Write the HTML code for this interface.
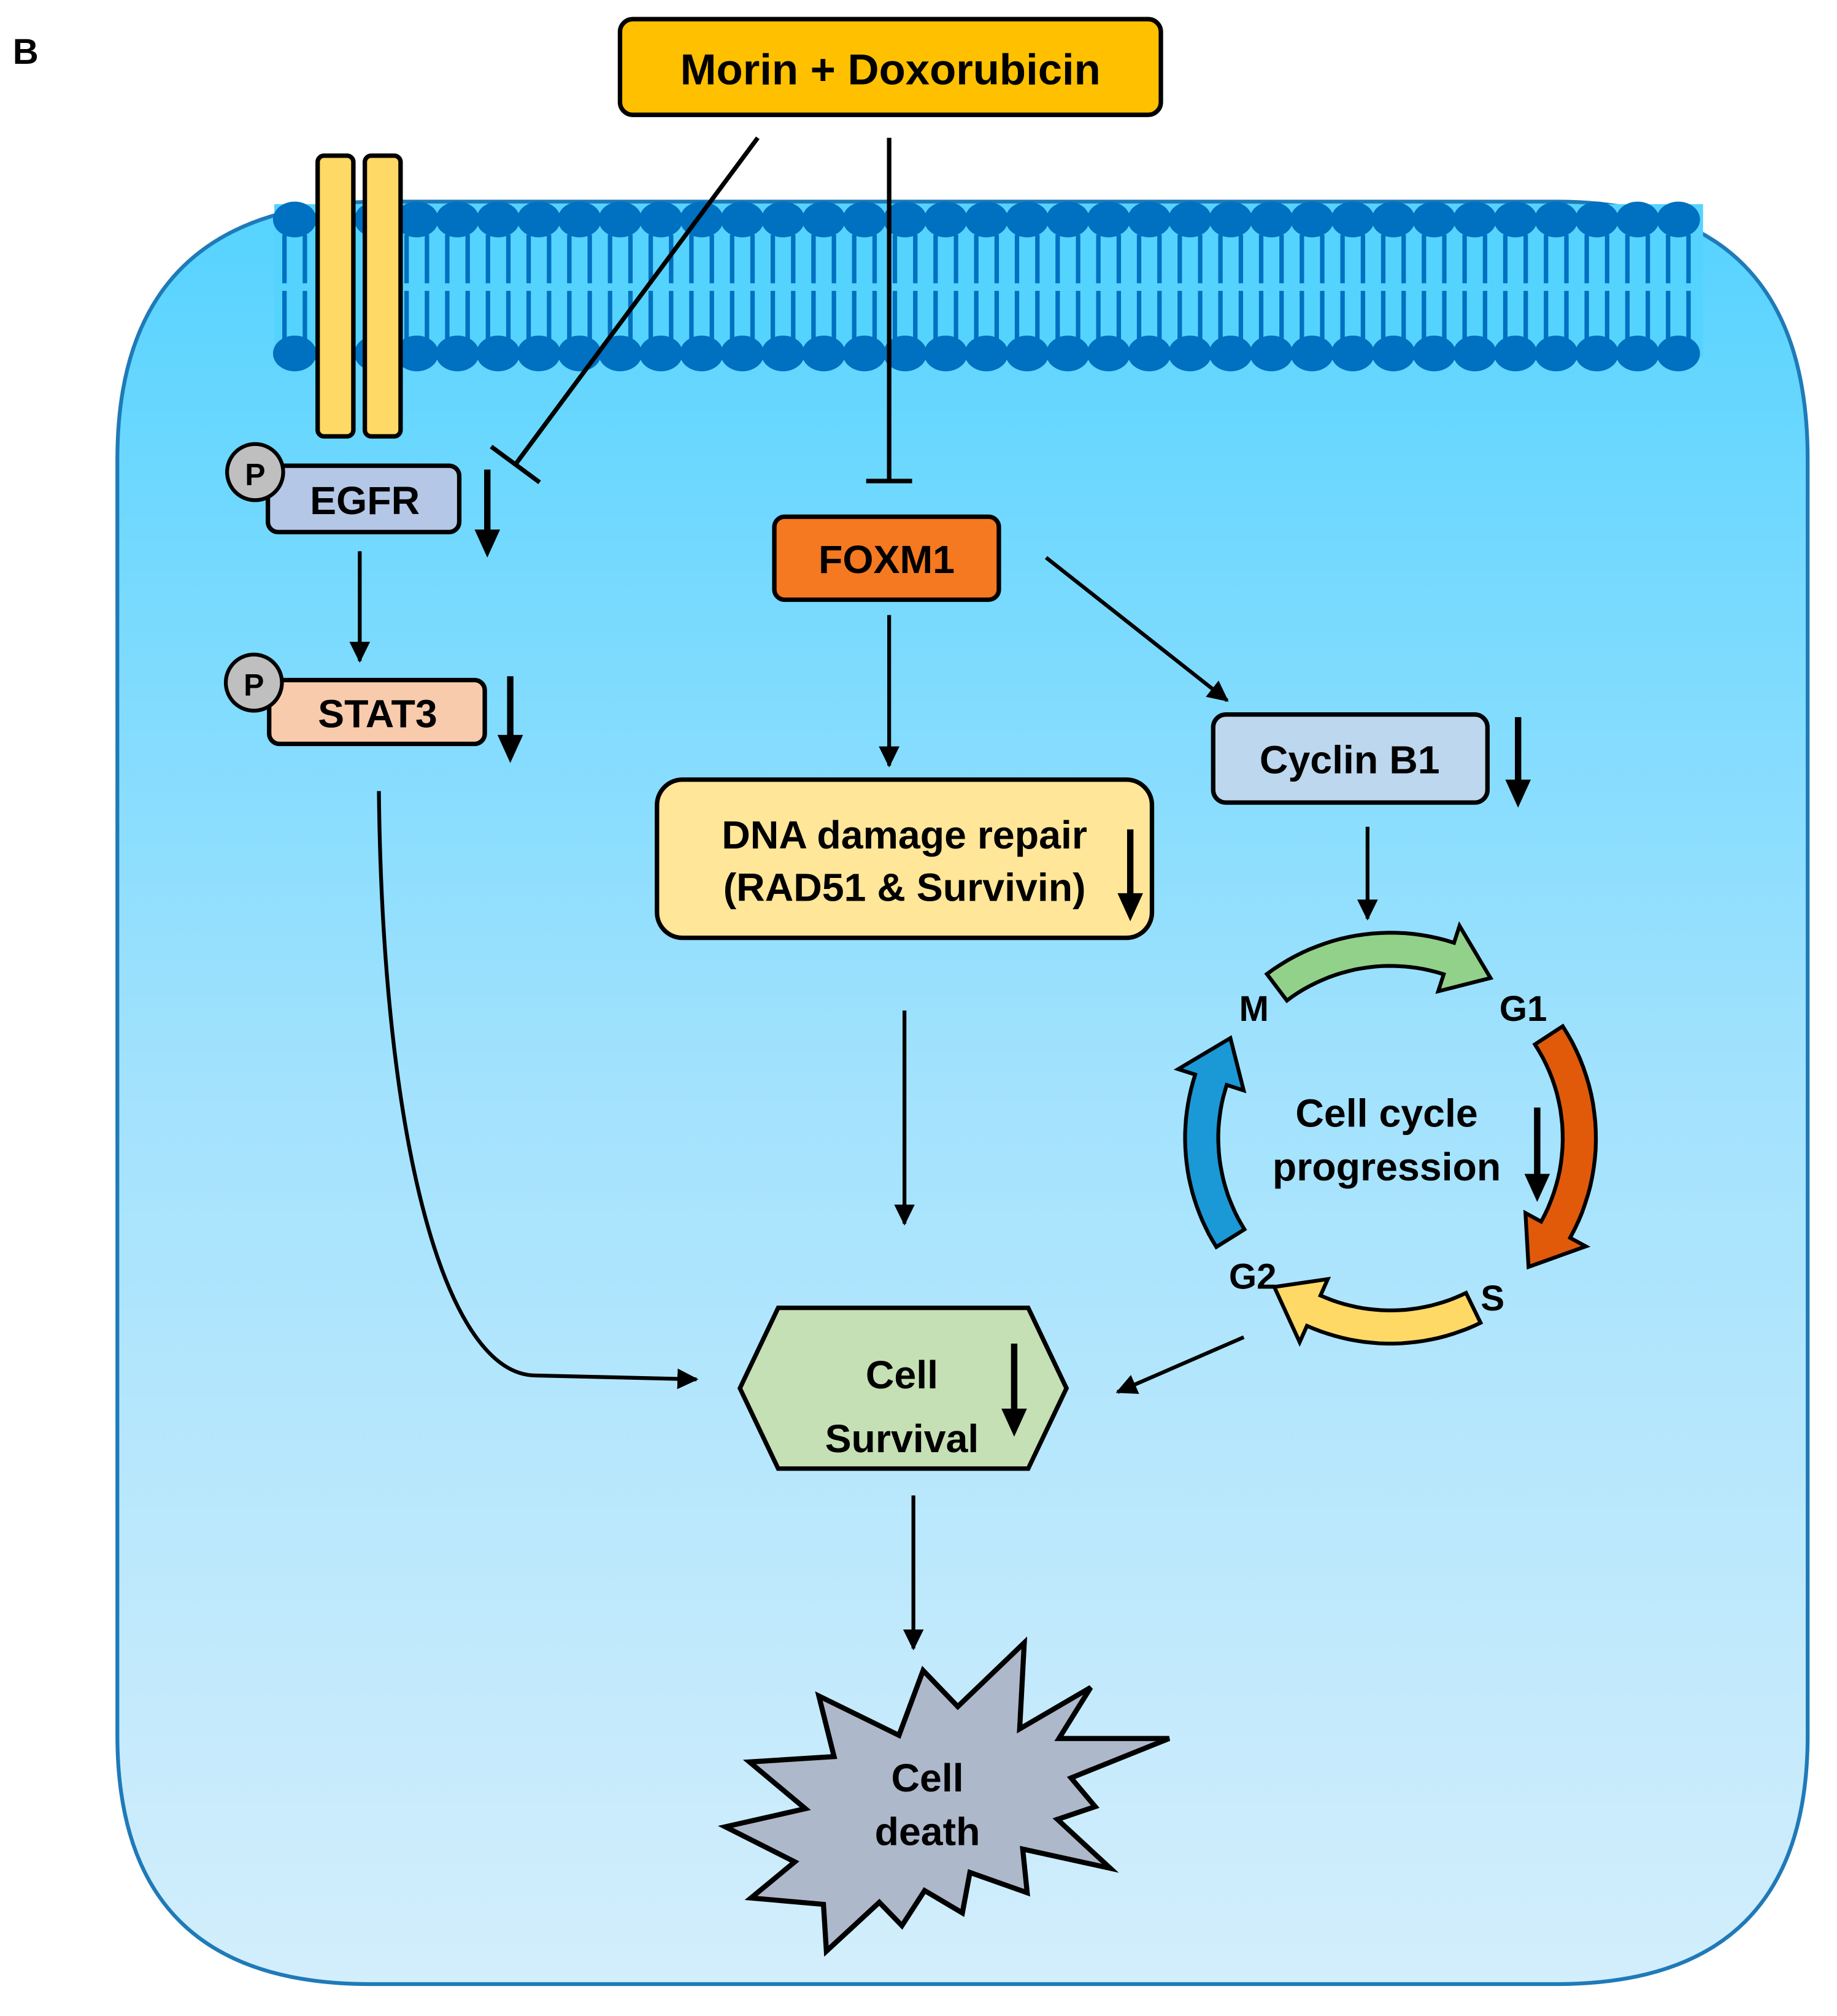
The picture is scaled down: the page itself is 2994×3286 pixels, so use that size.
<!DOCTYPE html>
<html><head><meta charset="utf-8"><style>
html,body{margin:0;padding:0;background:#fff}
svg{display:block}
text{font-family:"Liberation Sans",Arial,sans-serif;font-weight:bold;fill:#000}
</style></head><body>
<svg id="s" width="2994" height="3286" viewBox="0 0 1440 1580" preserveAspectRatio="none" xmlns="http://www.w3.org/2000/svg">
<defs>
<linearGradient id="g" x1="0" y1="0" x2="0" y2="1">
<stop offset="0" stop-color="#55D3FF"/><stop offset="0.5" stop-color="#A3E2FD"/><stop offset="1" stop-color="#D3EEFC"/>
</linearGradient>
<marker id="ah" markerWidth="6" markerHeight="6" refX="5" refY="3" orient="auto" markerUnits="strokeWidth">
<path d="M0,0.3 L5.5,3 L0,5.7 Z" fill="#000"/>
</marker>
</defs>
<text x="10" y="50" font-size="28">B</text>
<path d="M300,158 L1220,158 Q1417,158 1417,360 L1417,1360 Q1417,1555 1220,1555 L290,1555 Q92,1555 92,1360 L92,360 Q92,158 300,158 Z" fill="url(#g)" stroke="#1F7AB8" stroke-width="3"/>
<rect x="215" y="160" width="1120" height="120" fill="#55D3FF"/>
<g id="mem"></g>
<rect x="249" y="122" width="28" height="220" rx="5" fill="#FFD966" stroke="#000" stroke-width="3.5"/>
<rect x="286" y="122" width="28" height="220" rx="5" fill="#FFD966" stroke="#000" stroke-width="3.5"/>
<rect x="486" y="15" width="424" height="75" rx="10" fill="#FFC000" stroke="#000" stroke-width="3.5"/>
<text x="698" y="66" font-size="34" text-anchor="middle">Morin + Doxorubicin</text>
<g stroke="#000" stroke-width="3.5" fill="none">
<line x1="594" y1="108" x2="404" y2="364"/>
<line x1="385" y1="350" x2="423" y2="378"/>
<line x1="697" y1="108" x2="697" y2="377"/>
<line x1="679" y1="377" x2="715" y2="377"/>
</g>
<rect x="210" y="365" width="150" height="52" rx="8" fill="#B4C7E7" stroke="#000" stroke-width="3.5"/>
<circle cx="200" cy="370" r="22" fill="#BFBFBF" stroke="#000" stroke-width="3"/>
<text x="200" y="380" font-size="24" text-anchor="middle">P</text>
<text x="286" y="403" font-size="31" text-anchor="middle">EGFR</text>
<rect x="211" y="533" width="169" height="50" rx="8" fill="#F8CBAD" stroke="#000" stroke-width="3.5"/>
<circle cx="199" cy="535" r="22" fill="#BFBFBF" stroke="#000" stroke-width="3"/>
<text x="199" y="545" font-size="24" text-anchor="middle">P</text>
<text x="296" y="570" font-size="31" text-anchor="middle">STAT3</text>
<rect x="607" y="405" width="176" height="65" rx="8" fill="#F47920" stroke="#000" stroke-width="3.5"/>
<text x="695" y="449" font-size="31" text-anchor="middle">FOXM1</text>
<rect x="515" y="611" width="388" height="124" rx="20" fill="#FFE699" stroke="#000" stroke-width="3.5"/>
<text x="709" y="665" font-size="31" text-anchor="middle">DNA damage repair</text>
<text x="709" y="706" font-size="31" text-anchor="middle">(RAD51 &amp; Survivin)</text>
<rect x="951" y="560" width="215" height="69" rx="10" fill="#BDD7EE" stroke="#000" stroke-width="3.5"/>
<text x="1058" y="606" font-size="31" text-anchor="middle">Cyclin B1</text>
<polygon points="580,1088 610,1025 806,1025 836,1088 806,1151 610,1151" fill="#C5E0B4" stroke="#000" stroke-width="3.5"/>
<text x="707" y="1088" font-size="31" text-anchor="middle">Cell</text>
<text x="707" y="1138" font-size="31" text-anchor="middle">Survival</text>
<polygon points="723.6,1309.2 750.8,1337.5 802.9,1287.5 799.3,1355 855,1322.5 830.1,1362.5 916.5,1362.5 839.6,1393.4 858.5,1415.9 828.9,1425.9 870.3,1464.2 801.7,1449.2 805.2,1483.4 760.3,1467.5 754.4,1499.2 724.8,1481.7 707,1509.2 689.3,1490.9 647.8,1529.2 645.5,1492.5 588.7,1487.5 623,1459.2 568.6,1431.7 631.3,1417.5 587.5,1380.9 653.8,1376.7 641.9,1329.2 704.7,1360" fill="#ADB9CA" stroke="#000" stroke-width="4" stroke-linejoin="miter"/>
<text x="727" y="1404" font-size="31" text-anchor="middle">Cell</text>
<text x="727" y="1446" font-size="31" text-anchor="middle">death</text>
<g id="cc"></g>
<text x="983" y="800" font-size="28" text-anchor="middle">M</text>
<text x="1194" y="800" font-size="28" text-anchor="middle">G1</text>
<text x="1170" y="1027" font-size="28" text-anchor="middle">S</text>
<text x="982" y="1010" font-size="28" text-anchor="middle">G2</text>
<text x="1087" y="883" font-size="31" text-anchor="middle">Cell cycle</text>
<text x="1087" y="925" font-size="31" text-anchor="middle">progression</text>
<g stroke="#000" stroke-width="3" fill="none" marker-end="url(#ah)">
<line x1="282" y1="432" x2="282" y2="518"/>
<line x1="697" y1="482" x2="697" y2="600"/>
<line x1="820" y1="437" x2="962" y2="549"/>
<line x1="1072" y1="648" x2="1072" y2="720"/>
<line x1="709" y1="792" x2="709" y2="959"/>
<line x1="975" y1="1048" x2="876" y2="1091"/>
<line x1="716" y1="1172" x2="716" y2="1292"/>
<path d="M297,620 C300,900 350,1078 420,1078 L546,1081"/>
</g>
<g id="da"></g>
</svg>
<script>
var NS="http://www.w3.org/2000/svg";
function el(p,t,a){var e=document.createElementNS(NS,t);for(var k in a)e.setAttribute(k,a[k]);p.appendChild(e);return e;}
var mem=document.getElementById('mem');
for(var i=0;i<35;i++){var x=231+i*31.9;
 [[x-8,184,x-8,222],[x+8,184,x+8,222],[x-8,228,x-8,266],[x+8,228,x+8,266]].forEach(function(l){el(mem,'line',{x1:l[0],y1:l[1],x2:l[2],y2:l[3],stroke:'#0070C0','stroke-width':3.5});});
}
for(var i=0;i<35;i++){var x=231+i*31.9;
 el(mem,'ellipse',{cx:x,cy:172,rx:17,ry:14,fill:'#0070C0'});
 el(mem,'ellipse',{cx:x,cy:277,rx:17,ry:14,fill:'#0070C0'});
}
var cx=1090,cy=892,R=148,hw=13,hh=27;
function P(a,r){a=a*Math.PI/180;return (cx+r*Math.cos(a)).toFixed(1)+','+(cy+r*Math.sin(a)).toFixed(1);}
function arc(s,e,col){
 var dir=e>s?1:-1, hb=e-dir*14;
 var pts=[];var n=24;
 for(var i=0;i<=n;i++)pts.push(P(s+(hb-s)*i/n,R+hw));
 pts.push(P(hb,R+hh));pts.push(P(e,R));pts.push(P(hb,R-hh));
 for(var i=n;i>=0;i--)pts.push(P(s+(hb-s)*i/n,R-hw));
 el(document.getElementById('cc'),'polygon',{points:pts.join(' '),fill:col,stroke:'#000','stroke-width':3,'stroke-linejoin':'miter'});
}
arc(-127,-58,'#92D18A');
arc(-33,43,'#E05A0A');
arc(64,128,'#FFD966');
arc(148,212,'#1B98D6');
var da=document.getElementById('da');
[[382,368,437],[400,530,598],[886,650,722],[1190,562,633],[1205,868,942],[795,1053,1126]].forEach(function(a){
 el(da,'line',{x1:a[0],y1:a[1],x2:a[0],y2:a[2]-18,stroke:'#000','stroke-width':5});
 el(da,'polygon',{points:(a[0]-10)+','+(a[2]-22)+' '+(a[0]+10)+','+(a[2]-22)+' '+a[0]+','+a[2],fill:'#000'});
});
</script>
</body></html>
